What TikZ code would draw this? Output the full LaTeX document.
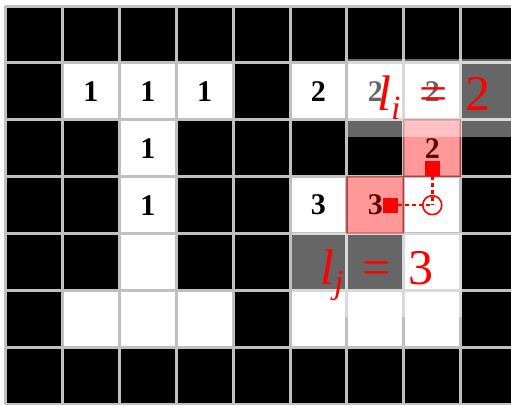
\documentclass[tikz,border=0pt]{standalone}
\usepackage{fontspec}
\setmainfont{Liberation Serif}
\usepackage{xcolor}
\definecolor{gridgray}{RGB}{192,192,192}
\newcommand{\lbl}[2]{\textit{l}\raisebox{-9pt}{\fontsize{34}{34}\selectfont\textit{#1}}\hspace{19pt}=\hspace{18pt}#2}

\begin{document}
\begin{tikzpicture}[
    x=56.9pt, y=-56.9pt,
    gridline/.style={draw=gridgray, line width=3pt, step=56.9pt},
    pixel/.style={fill=white, minimum size=56.9pt, inner sep=0pt, font=\fontsize{30}{30}\selectfont\bfseries},
    hilite/.style={minimum size=56.9pt, inner sep=0pt, fill=red, fill opacity=0.4, draw=red!60!black, draw opacity=0.5, line width=1.2pt},
    tagbox/.style={fill=white, fill opacity=0.4, text opacity=1, text=red, inner sep=0pt, font=\fontsize{50}{50}\selectfont},
    marker/.style={fill=red, minimum size=15pt, inner sep=0pt},
    probe/.style={circle, draw=red, line width=1.6pt, minimum size=19pt, inner sep=0pt},
    trace/.style={red, line width=2.6pt, dash pattern=on 4pt off 3pt}
]

\useasboundingbox (-5.5pt,6pt) rectangle (505.5pt,-398pt);

% Background pixels
\fill[black] (0,0) rectangle (9,7);

% Row 1
\node[pixel] (p11) at (1.5,1.5) {1};
\node[pixel] (p12) at (2.5,1.5) {1};
\node[pixel] (p13) at (3.5,1.5) {1};
\node[pixel] (p15) at (5.5,1.5) {2};
\node[pixel] (p16) at (6.5,1.5) {2};
\node[pixel] (p17) at (7.5,1.5) {2};

% Row 2
\node[pixel] (p22) at (2.5,2.5) {1};
\node[pixel] (p27) at (7.5,2.5) {2};

% Row 3
\node[pixel] (p32) at (2.5,3.5) {1};
\node[pixel] (p35) at (5.5,3.5) {3};
\node[pixel] (p36) at (6.5,3.5) {3};
\node[pixel] (p37) at (7.5,3.5) {};

% Row 4
\node[pixel] (p42) at (2.5,4.5) {};
\node[pixel] (p47) at (7.5,4.5) {};

% Row 5
\node[pixel] (p51) at (1.5,5.5) {};
\node[pixel] (p52) at (2.5,5.5) {};
\node[pixel] (p53) at (3.5,5.5) {};
\node[pixel] (p55) at (5.5,5.5) {};
\node[pixel] (p56) at (6.5,5.5) {};
\node[pixel] (p57) at (7.5,5.5) {};

% Grid
\draw[gridline] (0,0) grid (9,7);

% Neighbour pixels
\node[hilite] (h27) at (7.5,2.5) {};
\node[hilite] (h36) at (6.5,3.5) {};

% Current pixel and its neighbours
\node[probe] (cur) at (7.5,3.5) {};
\node[marker] (up) at (7.5,2.85) {};
\node[marker] (left) at (6.77,3.5) {};
\draw[trace] (up) -- (cur.center);
\draw[trace] (left) -- (cur.center);

% Labels
\node[tagbox, minimum width=172pt, minimum height=78pt] (li) at (7.53,1.615) {\lbl{i}{2}};
\node[tagbox, minimum width=170pt, minimum height=84pt] (lj) at (6.53,4.73) {\lbl{j}{3}};

\end{tikzpicture}
\end{document}
